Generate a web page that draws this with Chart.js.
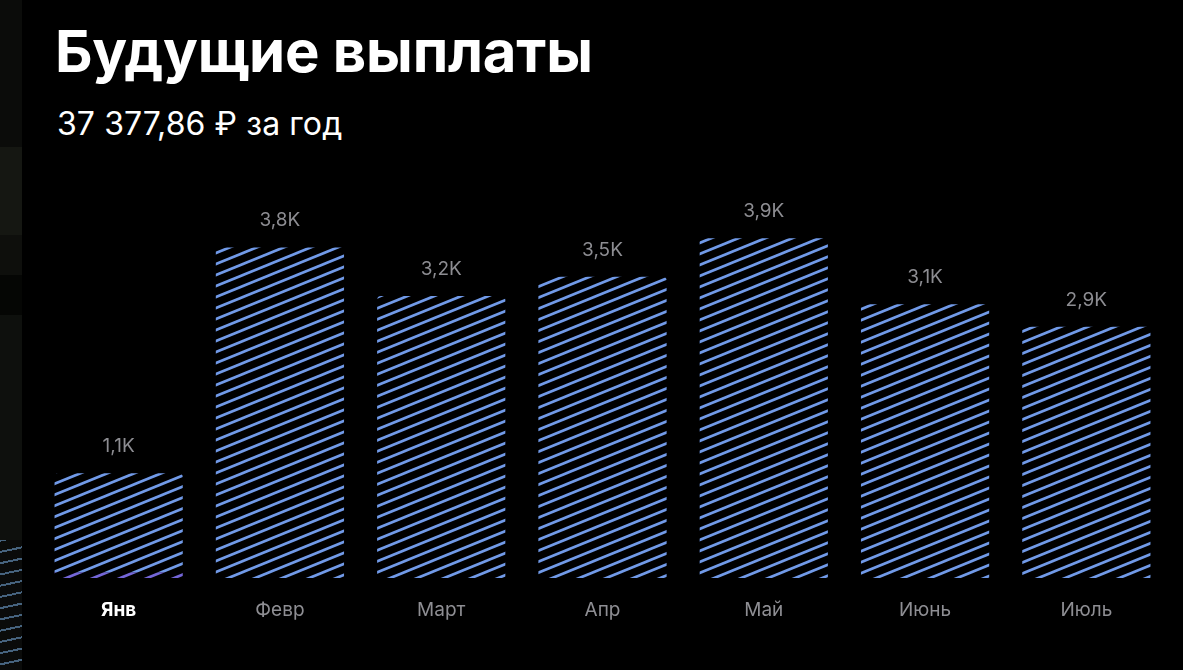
<!DOCTYPE html>
<html>
<head>
<meta charset="utf-8">
<script src="https://cdn.jsdelivr.net/npm/chart.js@4.4.1/dist/chart.umd.min.js"></script>
<style>
html,body{margin:0;padding:0;background:#000;width:1183px;height:670px;overflow:hidden;font-family:Inter,"Noto Sans",sans-serif;}
.strip{position:absolute;left:0;width:22px;}
#title{position:absolute;left:55px;top:22px;color:#fff;font-weight:700;font-size:58px;line-height:1;white-space:nowrap;letter-spacing:-0.2px;}
#sub{position:absolute;left:57px;top:108px;color:#fff;font-size:32px;line-height:1;white-space:nowrap;letter-spacing:0.1px;}
#wrap{position:absolute;left:0;top:0;width:1183px;height:670px;}
</style>
</head>
<body>
<div class="strip" style="top:0;height:147px;background:#0b0c0a"></div>
<div class="strip" style="top:147px;height:88px;background:#151712"></div>
<div class="strip" style="top:235px;height:40px;background:#0e0f0c"></div>
<div class="strip" style="top:275px;height:40px;background:#050604"></div>
<div class="strip" style="top:315px;height:225px;background:#0e100d"></div>
<div class="strip" style="top:540px;height:130px;background:repeating-linear-gradient(-12deg,#0a0b0a 0px,#0a0b0a 9px,#46637e 9px,#46637e 11px)"></div>
<div id="title">Будущие выплаты</div>
<div id="sub">37 377,86 ₽ за год</div>
<div id="wrap"><canvas id="c" width="1183" height="670"></canvas></div>
<script>
// ---- data ----
const months = ['Янв', 'Февр', 'Март', 'Апр', 'Май', 'Июнь', 'Июль'];
const payouts = [1100, 3800, 3220, 3450, 3910, 3120, 2851];   // rubles
const paidPart = [70, 0, 0, 0, 0, 0, 0];                        // purple bottom segment
const baseValue = -150;

// ---- hatch patterns ----
function hatch(color) {
  const W = 27, H = 11;
  const t = document.createElement('canvas');
  t.width = W; t.height = H;
  const g = t.getContext('2d');
  g.strokeStyle = color;
  g.lineWidth = 2.7;
  g.lineCap = 'butt';
  for (const off of [-H, 0, H]) {
    g.beginPath();
    g.moveTo(-W, H + off + H);
    g.lineTo(2 * W, off - H);
    g.stroke();
  }
  return g.createPattern(t, 'repeat');
}
const blueHatch = hatch('#719ae8');
const purpleHatch = hatch('#7466d8');

const blueData = payouts.map((v, i) => [baseValue + paidPart[i], v]);
const purpleData = paidPart.map(p => p > 0 ? [baseValue, baseValue + p] : null);

const valueLabels = {
  id: 'valueLabels',
  afterDatasetsDraw(chart) {
    const ctx = chart.ctx;
    const meta = chart.getDatasetMeta(0);
    ctx.save();
    ctx.font = '400 19px Inter, "Noto Sans", sans-serif';
    ctx.fillStyle = '#8d8d92';
    ctx.textAlign = 'center';
    ctx.textBaseline = 'alphabetic';
    meta.data.forEach((bar, i) => {
      const txt = (payouts[i] / 1000).toFixed(1).replace('.', ',') + 'K';
      ctx.fillText(txt, bar.x, bar.y - 21);
    });
    ctx.restore();
  }
};

new Chart(document.getElementById('c'), {
  type: 'bar',
  data: {
    labels: months,
    datasets: [
      {
        data: blueData,
        backgroundColor: blueHatch,
        borderWidth: 0,
        borderRadius: 4,
        borderSkipped: 'start',
        grouped: false,
        barPercentage: 0.795,
        categoryPercentage: 1
      },
      {
        data: purpleData,
        backgroundColor: purpleHatch,
        borderWidth: 0,
        borderRadius: 0,
        grouped: false,
        barPercentage: 0.795,
        categoryPercentage: 1
      }
    ]
  },
  options: {
    responsive: false,
    animation: false,
    devicePixelRatio: 1,
    layout: { padding: { left: 38, right: 16, top: 200, bottom: 0 } },
    plugins: { legend: { display: false }, tooltip: { enabled: false } },
    scales: {
      x: {
        grid: { display: false, drawTicks: false },
        border: { display: false },
        ticks: {
          padding: 21,
          color: ctx => ctx.index === 0 ? '#ffffff' : '#8e8e93',
          font: ctx => ({ family: 'Inter, "Noto Sans", sans-serif', size: 19, weight: ctx.index === 0 ? '700' : '400' })
        },
        afterFit(scale) { scale.height = 92; }
      },
      y: {
        display: false,
        min: baseValue,
        max: 4366
      }
    }
  },
  plugins: [valueLabels]
});
</script>
</body>
</html>
